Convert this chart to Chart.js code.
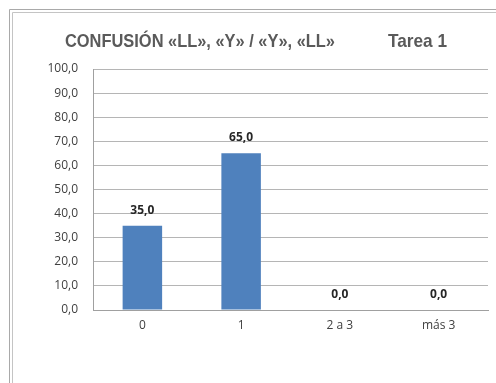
<!DOCTYPE html>
<html>
<head>
<meta charset="utf-8">
<script src="https://cdn.jsdelivr.net/npm/chart.js@4/dist/chart.umd.min.js"></script>
<style>
  html, body { margin: 0; padding: 0; background: #ffffff; }
  #wrap { width: 496px; height: 383px; position: relative; }
</style>
</head>
<body>
<div id="wrap"><canvas id="c" width="496" height="383"></canvas></div>
<script>
// Categories and values of the bar series
const categories = ['0', '1', '2 a 3', 'más 3'];
const values = [35.0, 65.0, 0.0, 0.0];
// Value axis range
const yMin = 0;
const yMax = 100;
const yStep = 10;
// Title pieces
const titleMain = 'CONFUSIÓN «LL», «Y» / «Y», «LL»';
const titleTask = 'Tarea 1';

const fmt = v => Number(v).toFixed(1).replace('.', ',');
const tickFont = { family: "'Open Sans', 'Liberation Sans', sans-serif", size: 12 };

// Double grey frame along the left and top edges
const framePlugin = {
  id: 'frame',
  beforeDraw(chart) {
    const ctx = chart.ctx;
    ctx.save();
    ctx.fillStyle = '#ffffff';
    ctx.fillRect(0, 0, chart.width, chart.height);
    ctx.lineWidth = 1;
    ctx.strokeStyle = '#a9a9a9';
    ctx.beginPath();
    ctx.moveTo(9.5, chart.height); ctx.lineTo(9.5, 9.5); ctx.lineTo(chart.width, 9.5);
    ctx.stroke();
    ctx.strokeStyle = '#c4c4c4';
    ctx.beginPath();
    ctx.moveTo(12.5, chart.height); ctx.lineTo(12.5, 12.5); ctx.lineTo(chart.width, 12.5);
    ctx.stroke();
    ctx.restore();
  }
};

// Two-part heading drawn above the plot
const headingPlugin = {
  id: 'heading',
  afterDraw(chart) {
    const ctx = chart.ctx;
    ctx.save();
    ctx.fillStyle = '#5a5a5a';
    ctx.textBaseline = 'alphabetic';
    ctx.font = "bold 19px 'Liberation Sans Narrow', 'Arial Narrow', 'Liberation Sans', sans-serif";
    const drawFit = (txt, x, y, w) => {
      const m = ctx.measureText(txt).width;
      ctx.save();
      ctx.translate(x, y);
      ctx.scale(w / m, 1);
      ctx.fillText(txt, 0, 0);
      ctx.restore();
    };
    drawFit(titleMain, 65, 47, 270);
    drawFit(titleTask, 388, 47, 59);
    ctx.restore();
  }
};

// Value labels above each bar
const valueLabelPlugin = {
  id: 'valueLabels',
  afterDatasetsDraw(chart) {
    const ctx = chart.ctx;
    const meta = chart.getDatasetMeta(0);
    ctx.save();
    ctx.fillStyle = '#262626';
    ctx.font = "bold 12px 'Open Sans', 'Liberation Sans', sans-serif";
    ctx.textAlign = 'center';
    ctx.textBaseline = 'alphabetic';
    meta.data.forEach((bar, i) => {
      ctx.fillText(fmt(values[i]), bar.x, bar.y - 12);
    });
    ctx.restore();
  }
};

new Chart(document.getElementById('c'), {
  type: 'bar',
  data: {
    labels: categories,
    datasets: [{
      data: values,
      backgroundColor: '#4f81bd',
      borderWidth: 0,
      barPercentage: 0.4,
      categoryPercentage: 1.0
    }]
  },
  options: {
    responsive: false,
    animation: false,
    devicePixelRatio: 1,
    layout: { padding: { left: 0, right: 8, top: 69, bottom: 0 } },
    plugins: {
      legend: { display: false },
      title: { display: false },
      tooltip: { enabled: false }
    },
    scales: {
      x: {
        grid: { display: false, drawTicks: false },
        border: { display: true, color: '#a0a0a0' },
        ticks: { color: '#404040', font: tickFont, padding: 8, maxRotation: 0 },
        afterFit(scale) { scale.height = 73; }
      },
      y: {
        min: yMin,
        max: yMax,
        ticks: {
          stepSize: yStep,
          color: '#404040',
          font: tickFont,
          padding: 15,
          callback: v => fmt(v)
        },
        grid: { color: '#b5b5b5', drawTicks: false },
        border: { display: true, color: '#a0a0a0' },
        afterFit(scale) { scale.width = 93; }
      }
    }
  },
  plugins: [framePlugin, headingPlugin, valueLabelPlugin]
});
</script>
</body>
</html>
